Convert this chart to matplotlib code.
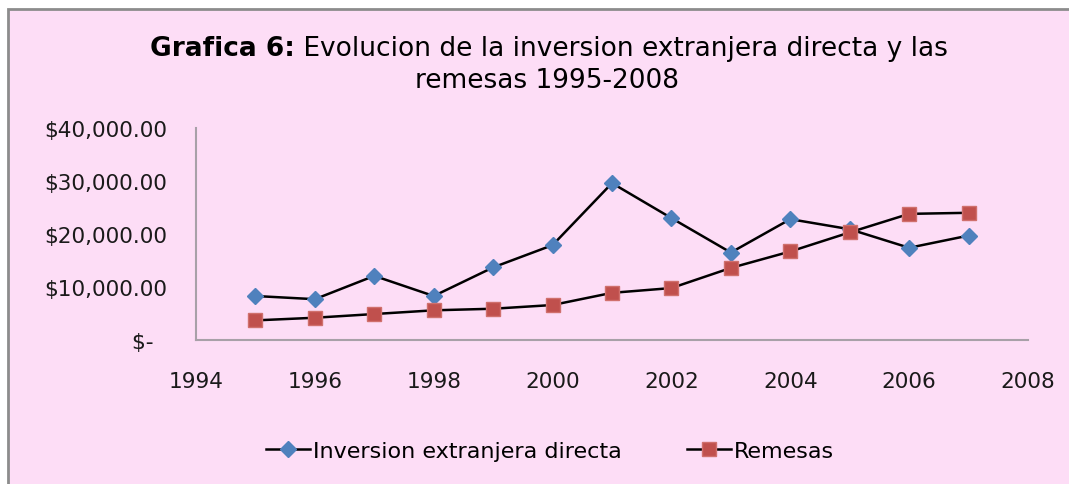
import matplotlib
matplotlib.use('Agg')
import matplotlib.pyplot as plt
from matplotlib.patches import Rectangle

plt.rcParams['font.family'] = ['DejaVu Sans']

# datos
years = [1995, 1996, 1997, 1998, 1999, 2000, 2001, 2002, 2003, 2004, 2005, 2006, 2007]
ied = [8300, 7700, 12100, 8300, 13700, 17900, 29600, 23000, 16500, 22800, 20900, 17400, 19700]
remesas = [3700, 4200, 4900, 5600, 5900, 6600, 8900, 9800, 13600, 16700, 20300, 23800, 24000]

xticks = [1994, 1996, 1998, 2000, 2002, 2004, 2006, 2008]
yticks = [0, 10000, 20000, 30000, 40000]
ylabels = ['$-  ', '$10,000.00', '$20,000.00', '$30,000.00', '$40,000.00']

pink = '#FDDDF6'
W, H = 1069, 485

fig = plt.figure(figsize=(W / 100, H / 100), dpi=100)
fig.patch.set_facecolor('white')

# marco del area de la grafica
fig.patches.append(Rectangle((8 / W, -0.05), 1.1, 1 - 10 / H + 0.05,
                             transform=fig.transFigure, facecolor=pink,
                             edgecolor='#8C8C8C', linewidth=2, zorder=-5))

ax = fig.add_axes([196 / W, 1 - 341 / H, (1028 - 196) / W, (341 - 129) / H])
ax.set_zorder(2)
ax.patch.set_alpha(0)

ax.plot(years, ied, color='black', linewidth=1.8, marker='D', markersize=8.5,
        markerfacecolor='#4F81BD', markeredgecolor='#4F81BD',
        label='Inversion extranjera directa')
ax.plot(years, remesas, color='black', linewidth=1.8, marker='s', markersize=10,
        markerfacecolor='#C0504D', markeredgecolor='#D0706D',
        label='Remesas')

ax.set_xlim(1994, 2008)
ax.set_ylim(0, 40000)
ax.set_xticks(xticks)
ax.set_yticks(yticks)
ax.set_yticklabels(ylabels)
ax.tick_params(axis='both', length=0, labelsize=15.6, labelcolor='#1A1A1A')
ax.tick_params(axis='x', pad=22)
ax.tick_params(axis='y', pad=21)

for s in ['top', 'right']:
    ax.spines[s].set_visible(False)
for s in ['left', 'bottom']:
    ax.spines[s].set_color('#A8A0A8')
    ax.spines[s].set_linewidth(1.5)

# titulo: parte en negrita y parte normal
t1 = fig.text(0, 1 - 56 / H, 'Grafica 6:', fontsize=19, fontweight='bold',
              ha='left', va='baseline')
t2 = fig.text(0, 1 - 56 / H, ' Evolucion de la inversion extranjera directa y las',
              fontsize=19, ha='left', va='baseline')
fig.text(547 / W, 1 - 88 / H, 'remesas 1995-2008', fontsize=19,
         ha='center', va='baseline')

fig.canvas.draw()
r = fig.canvas.get_renderer()
w1 = t1.get_window_extent(r).width / W
w2 = t2.get_window_extent(r).width / W
x0 = 549 / W - (w1 + w2) / 2
t1.set_x(x0)
t2.set_x(x0 + w1)

fig.legend(loc='center', bbox_to_anchor=(550 / W, 1 - 452 / H), ncol=2,
           frameon=False, fontsize=16, handlelength=2.0, columnspacing=2.9,
           handletextpad=0.15)

fig.savefig('out.png', dpi=100, facecolor=fig.get_facecolor())
